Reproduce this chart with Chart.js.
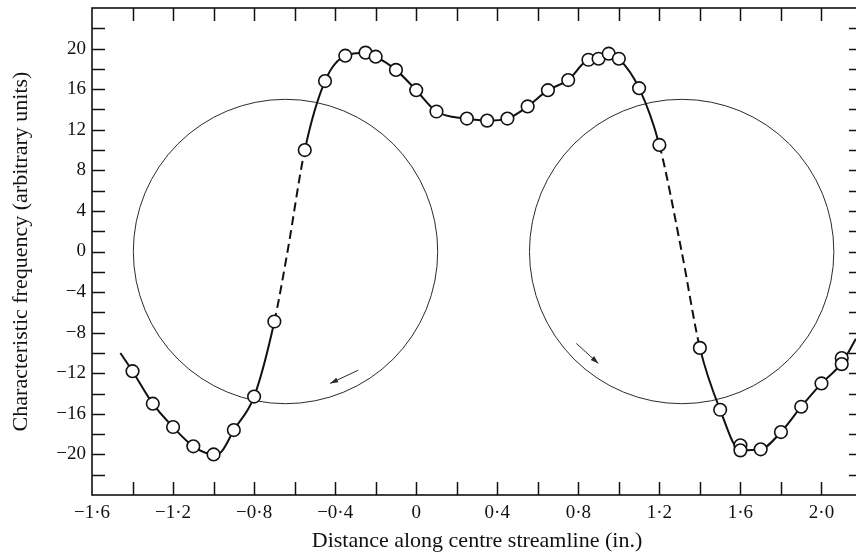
<!DOCTYPE html>
<html><head><meta charset="utf-8">
<script src="https://cdn.jsdelivr.net/npm/chart.js@4.4.0/dist/chart.umd.min.js"></script>
<style>
html,body{margin:0;padding:0;overflow:hidden;background:#fff;width:856px;height:554px}
#wrap{position:absolute;left:0;top:0;width:866px;height:554px}
</style>
</head><body><div id="wrap"><canvas id="c" width="866" height="554"></canvas></div>
<script>
// ---- data ----
const curveX = [-1.46,-1.40,-1.30,-1.20,-1.10,-1.00,-0.96,-0.90,-0.80,-0.70,-0.635,-0.55,-0.45,-0.35,-0.25,-0.20,-0.10,0.00,0.10,0.25,0.35,0.45,0.55,0.65,0.75,0.85,0.90,0.95,1.00,1.10,1.20,1.31,1.40,1.50,1.60,1.70,1.80,1.90,2.00,2.10,2.17];
const curveY = [-10.0,-11.8,-15.0,-17.3,-19.2,-20.0,-19.7,-17.6,-14.3,-6.9,0.0,10.0,16.8,19.3,19.6,19.2,17.9,15.9,13.8,13.1,12.9,13.1,14.3,15.9,16.9,18.9,19.0,19.5,19.0,16.1,10.5,0.0,-9.5,-15.6,-19.6,-19.5,-17.8,-15.3,-13.0,-11.0,-8.6];
const markX = [-1.40,-1.30,-1.20,-1.10,-1.00,-0.90,-0.80,-0.70,-0.55,-0.45,-0.35,-0.25,-0.20,-0.10,0.00,0.10,0.25,0.35,0.45,0.55,0.65,0.75,0.85,0.90,0.95,1.00,1.10,1.20,1.40,1.50,1.60,1.60,1.70,1.80,1.90,2.00,2.10,2.10];
const markY = [-11.8,-15.0,-17.3,-19.2,-20.0,-17.6,-14.3,-6.9,10.0,16.8,19.3,19.6,19.2,17.9,15.9,13.8,13.1,12.9,13.1,14.3,15.9,16.9,18.9,19.0,19.5,19.0,16.1,10.5,-9.5,-15.6,-19.1,-19.6,-19.5,-17.8,-15.3,-13.0,-10.5,-11.1];
const dashSpans = [[-0.70,-0.55],[1.20,1.40]];

const xLabelValues = [-1.6,-1.2,-0.8,-0.4,0,0.4,0.8,1.2,1.6,2.0];
const xLabels = ['−1·6','−1·2','−0·8','−0·4','0','0·4','0·8','1·2','1·6','2·0'];
const xTickMarks = [-1.4,-1.2,-1.0,-0.8,-0.6,-0.4,-0.2,0,0.2,0.4,0.6,0.8,1.0,1.2,1.4,1.6,1.8,2.0];
const yLabelValues = [-20,-16,-12,-8,-4,0,4,8,12,16,20];
const yLabels = ['−20','−16','−12','−8','−4','0','4','8','12','16','20'];
const yTickMarks = [-22,-20,-18,-16,-14,-12,-10,-8,-6,-4,-2,0,2,4,6,8,10,12,14,16,18,20,22];

const circleCentreX = [-0.645, 1.31];
const circleCentreY = [0, 0];
const circleRadiusY = [15, 15];
const arrowFrom = [[-0.286,-11.7],[0.790,-9.06]];
const arrowTo = [[-0.425,-13.0],[0.899,-11.03]];

const FONT = "'Liberation Serif', 'Times New Roman', serif";

const curvePts = curveX.map((v,i)=>({x:v,y:curveY[i]}));
const markPts = markX.map((v,i)=>({x:v,y:markY[i]}));

function inDash(a,b){
  return dashSpans.some(s => a >= s[0]-1e-6 && b <= s[1]+1e-6);
}

const decor = {
  id:'decor',
  beforeDatasetsDraw(chart){
    const {ctx, chartArea:a, scales:{x,y}} = chart;
    ctx.save();
    ctx.beginPath(); ctx.rect(a.left,a.top,a.right-a.left,a.bottom-a.top); ctx.clip();
    ctx.strokeStyle = '#2a2a2a'; ctx.lineWidth = 1;
    for (let i=0;i<circleCentreX.length;i++){
      const cx = x.getPixelForValue(circleCentreX[i]);
      const cy = y.getPixelForValue(circleCentreY[i]);
      const r = cy - y.getPixelForValue(circleCentreY[i]+circleRadiusY[i]);
      ctx.beginPath(); ctx.arc(cx,cy,r,0,Math.PI*2); ctx.stroke();
    }
    ctx.fillStyle = '#2a2a2a';
    for (let i=0;i<arrowFrom.length;i++){
      const x0=x.getPixelForValue(arrowFrom[i][0]), y0=y.getPixelForValue(arrowFrom[i][1]);
      const x1=x.getPixelForValue(arrowTo[i][0]), y1=y.getPixelForValue(arrowTo[i][1]);
      ctx.beginPath(); ctx.moveTo(x0,y0); ctx.lineTo(x1,y1); ctx.stroke();
      const ang=Math.atan2(y1-y0,x1-x0), L=8, W=2.6;
      ctx.beginPath();
      ctx.moveTo(x1,y1);
      ctx.lineTo(x1-L*Math.cos(ang)+W*Math.sin(ang), y1-L*Math.sin(ang)-W*Math.cos(ang));
      ctx.lineTo(x1-L*Math.cos(ang)-W*Math.sin(ang), y1-L*Math.sin(ang)+W*Math.cos(ang));
      ctx.closePath(); ctx.fill();
    }
    ctx.restore();
  },
  afterDraw(chart){
    const {ctx, chartArea:a, scales:{x,y}} = chart;
    ctx.save();
    ctx.strokeStyle = '#111'; ctx.lineWidth = 1.6;
    ctx.strokeRect(a.left,a.top,a.right-a.left,a.bottom-a.top);
    const T = 13;
    ctx.lineWidth = 1.5;
    ctx.beginPath();
    xTickMarks.forEach(v=>{
      const px = Math.round(x.getPixelForValue(v))+0.5;
      ctx.moveTo(px,a.bottom); ctx.lineTo(px,a.bottom-T);
      ctx.moveTo(px,a.top); ctx.lineTo(px,a.top+T);
    });
    yTickMarks.forEach(v=>{
      const py = Math.round(y.getPixelForValue(v))+0.5;
      ctx.moveTo(a.left,py); ctx.lineTo(a.left+T,py);
      ctx.moveTo(a.right,py); ctx.lineTo(a.right-T,py);
    });
    ctx.stroke();
    ctx.restore();
  }
};

function noPad(s){ s.paddingTop = 0; s.paddingBottom = 0; s.paddingLeft = 0; s.paddingRight = 0; }

new Chart(document.getElementById('c'), {
  type:'scatter',
  data:{ datasets:[
    { label:'points', data:markPts, showLine:false, order:0,
      pointRadius:6.3, pointBorderWidth:1.6, pointBackgroundColor:'#fff', pointBorderColor:'#111', pointHoverRadius:6.3 },
    { label:'curve', data:curvePts, showLine:true, order:1, pointRadius:0, pointHoverRadius:0,
      borderColor:'#111', borderWidth:2, cubicInterpolationMode:'monotone', fill:false,
      segment:{ borderDash: c => inDash(c.p0.parsed.x, c.p1.parsed.x) ? [9,5] : undefined } }
  ]},
  options:{
    responsive:false, animation:false, devicePixelRatio:1,
    layout:{ autoPadding:false, padding:{left:0, top:8, right:4, bottom:0} },
    plugins:{ legend:{display:false}, title:{display:false}, tooltip:{enabled:false} },
    events:[],
    scales:{
      x:{ type:'linear', min:-1.6, max:2.2, position:'bottom',
        grid:{display:false, drawTicks:false}, border:{display:false},
        afterBuildTicks: s => { s.ticks = xLabelValues.map(v=>({value:v})); },
        ticks:{ autoSkip:false, maxRotation:0, padding:7, color:'#111', font:{family:FONT, size:19},
          callback:(v)=>{ const i = xLabelValues.findIndex(t=>Math.abs(t-v)<1e-6); return i>=0 ? xLabels[i] : ''; } },
        title:{ display:true, text:'Distance along centre streamline (in.)', color:'#111',
          font:{family:FONT, size:22}, padding:{top:0,bottom:0} },
        afterFit: s => { s.height = 59; noPad(s); }
      },
      y:{ type:'linear', min:-24, max:24, position:'left',
        grid:{display:false, drawTicks:false}, border:{display:false},
        afterBuildTicks: s => { s.ticks = yLabelValues.map(v=>({value:v})); },
        ticks:{ autoSkip:false, padding:6, color:'#111', font:{family:FONT, size:19},
          callback:(v)=>{ const i = yLabelValues.findIndex(t=>Math.abs(t-v)<1e-6); return i>=0 ? yLabels[i] : ''; } },
        title:{ display:true, text:'Characteristic frequency (arbitrary units)', color:'#111',
          font:{family:FONT, size:22}, padding:{top:8,bottom:0} },
        afterFit: s => { s.width = 92; noPad(s); }
      }
    }
  },
  plugins:[decor]
});
</script>
</body></html>
